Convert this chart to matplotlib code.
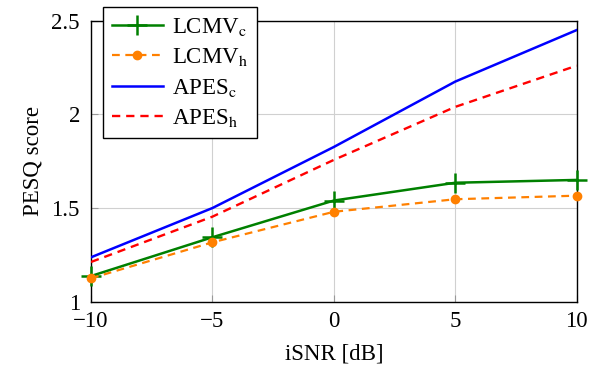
import numpy as np
import matplotlib
matplotlib.use("Agg")
import matplotlib.pyplot as plt
from matplotlib.ticker import FuncFormatter

plt.rcParams["font.family"] = ["Liberation Serif", "DejaVu Serif"]
plt.rcParams["mathtext.fontset"] = "stix"

snr = [-10, -5, 0, 5, 10]
lcmv_c = [1.137, 1.344, 1.54, 1.635, 1.65]
lcmv_h = [1.125, 1.317, 1.48, 1.547, 1.566]
apes_c = [1.237, 1.50, 1.826, 2.175, 2.45]
apes_h = [1.212, 1.454, 1.757, 2.04, 2.26]

fs = 16.5
fig = plt.figure(figsize=(5.95, 3.65), dpi=100)
ax = fig.add_axes([91/595, 1-301.7/365, (576.7-91)/595, (301.7-20.7)/365])

ax.plot(snr, lcmv_c, color="#008000", lw=1.8, marker="+", ms=15, mew=1.8,
        label=r"LCMV$_\mathrm{c}$", zorder=4, clip_on=False)
ax.plot(snr, lcmv_h, color="#ff8000", lw=1.6, ls=(0, (3.5, 2.5)), marker="o", ms=6,
        label=r"LCMV$_\mathrm{h}$", zorder=5, clip_on=False)
ax.plot(snr, apes_c, color="#0000ff", lw=1.8, label=r"APES$_\mathrm{c}$", zorder=3)
ax.plot(snr, apes_h, color="#ff0000", lw=1.7, ls=(0, (3.5, 2.5)), label=r"APES$_\mathrm{h}$", zorder=3)

ax.set_xlim(-10, 10)
ax.set_ylim(1, 2.5)
ax.set_xticks([-10, -5, 0, 5, 10])
ax.set_yticks([1, 1.5, 2, 2.5])
ax.xaxis.set_major_formatter(FuncFormatter(lambda v, p: ("%g" % v).replace("-", "\u2212")))
ax.yaxis.set_major_formatter(FuncFormatter(lambda v, p: "%g" % v))
ax.grid(True, color="#d0d0d0", lw=0.8)
ax.set_axisbelow(True)
ax.tick_params(direction="in", length=5, color="#999999", labelsize=fs)
ax.tick_params(axis="x", pad=7)
ax.tick_params(axis="y", pad=8)
for s in ax.spines.values():
    s.set_linewidth(1.0)
    s.set_color("black")

ax.set_xlabel("iSNR [dB]", fontsize=fs, labelpad=8)
ax.set_ylabel("PESQ score", fontsize=fs, labelpad=6)

leg = ax.legend(loc="upper left", bbox_to_anchor=(103/595, 1-7/365),
                bbox_transform=fig.transFigure, borderaxespad=0, fontsize=fs,
                fancybox=False, framealpha=1, edgecolor="black",
                handlelength=2.2, handletextpad=0.4, labelspacing=0.36,
                borderpad=0.4)
leg.get_frame().set_linewidth(1.0)
leg.set_zorder(10)

fig.savefig("out.png", dpi=100)
